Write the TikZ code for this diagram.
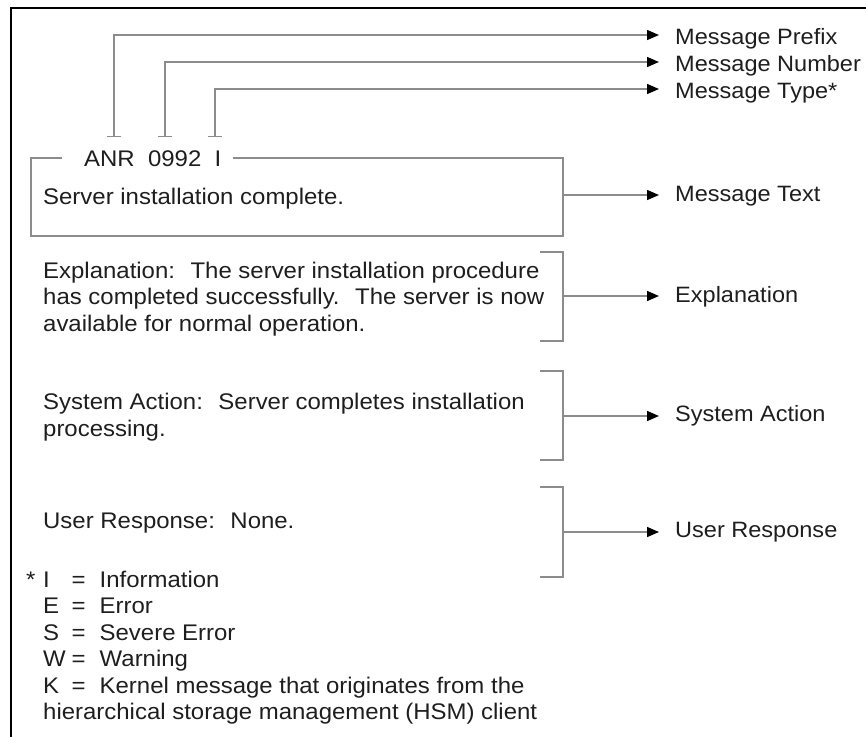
\documentclass[tikz,border=0pt]{standalone}
\usepackage{fontspec}
\setmainfont{Liberation Sans}[FakeStretch=1.06]
\usetikzlibrary{arrows.meta}

\definecolor{linegray}{HTML}{8C8C8C}
\definecolor{inkgray}{HTML}{1E1E1E}

\begin{document}
\begin{tikzpicture}
[
	x=1pt, y=-1pt,
	txt/.style={anchor=base west,inner sep=0pt,text=inkgray,align=left,
	  font=\fontsize{22.6}{26.5}\selectfont},
	lbl/.style={txt,anchor=west,text height=16pt,text depth=0pt,
	  font=\fontsize{22.2}{26.5}\selectfont},
	boxline/.style={linegray,line width=1.4pt},
	conn/.style={linegray,line width=1.4pt,
	  -{Triangle[length=12pt,width=10pt,color=black]}},
	tickconn/.style={conn,{Bar[width=14pt,color=linegray]}-{Triangle[length=12pt,width=10pt,color=black]}}
]
	\useasboundingbox (0,0) rectangle (866,737);

	% frame
	\draw[black,line width=2pt] (11,737) |- (866,8);

	% labels on the right
	\node[lbl] (prefix) at (675,36) {Message Prefix};
	\node[lbl] (number) at (675,63) {Message Number};
	\node[lbl] (msgtype) at (675,90) {Message Type*};
	\node[lbl] (msgtext) at (675,193) {Message Text};
	\node[lbl] (explL) at (675,294) {Explanation};
	\node[lbl] (actionL) at (675,413) {System Action};
	\node[lbl] (userL) at (675,529) {User Response};

	% message id parts
	\coordinate (tkprefix) at (114,137);
	\coordinate (tknumber) at (165,137);
	\coordinate (tktype) at (215,137);
	\draw[tickconn] (tkprefix) |- ([xshift=-16pt]prefix.west |- 0,35);
	\draw[tickconn] (tknumber) |- ([xshift=-16pt]number.west |- 0,62);
	\draw[tickconn] (tktype) |- ([xshift=-16pt]msgtype.west |- 0,89);

	% message box
	\node[lbl,font=\fontsize{22.6}{26.5}\selectfont] (title) at (84,158) {ANR \ 0992 \ I};
	\draw[boxline] ([xshift=11pt]title.east |- 0,158) -| (563,236) -| (31,158)
	  -- ([xshift=-22pt]title.west |- 0,158);
	\node[txt] (server) at (43,204) {Server installation complete.};
	\coordinate (boxR) at (563,195);
	\draw[conn] (boxR) -- ([xshift=-16pt]msgtext.west |- boxR);

	% explanation
	\node[txt] (expl) at (43,331) {Explanation: \ The server installation procedure\\
	  has completed successfully. \ The server is now\\
	  available for normal operation.};
	\draw[boxline] (540,252) -| (563,341) -- (540,341);
	\coordinate (explB) at (563,296);
	\draw[conn] (explB) -- ([xshift=-16pt]explL.west |- explB);

	% system action
	\node[txt] (action) at (43,436) {System Action: \ Server completes installation\\
	  processing.};
	\draw[boxline] (540,371) -| (563,460) -- (540,460);
	\coordinate (actionB) at (563,416);
	\draw[conn] (actionB) -- ([xshift=-16pt]actionL.west |- actionB);

	% user response
	\node[txt] (user) at (43,528) {User Response: \ None.};
	\draw[boxline] (540,487) -| (563,577) -- (540,577);
	\coordinate (userB) at (563,532);
	\draw[conn] (userB) -- ([xshift=-16pt]userL.west |- userB);

	% legend
	\node[txt] (star) at (26,587) {*};
	\node[txt] (legend) at (43,719.5) {\makebox[28.5pt][l]{I}\makebox[28pt][l]{=}Information\\
	  \makebox[28.5pt][l]{E}\makebox[28pt][l]{=}Error\\
	  \makebox[28.5pt][l]{S}\makebox[28pt][l]{=}Severe Error\\
	  \makebox[28.5pt][l]{W}\makebox[28pt][l]{=}Warning\\
	  \makebox[28.5pt][l]{K}\makebox[28pt][l]{=}Kernel message that originates from the\\
	  hierarchical storage management (HSM) client};

\end{tikzpicture}
\end{document}
